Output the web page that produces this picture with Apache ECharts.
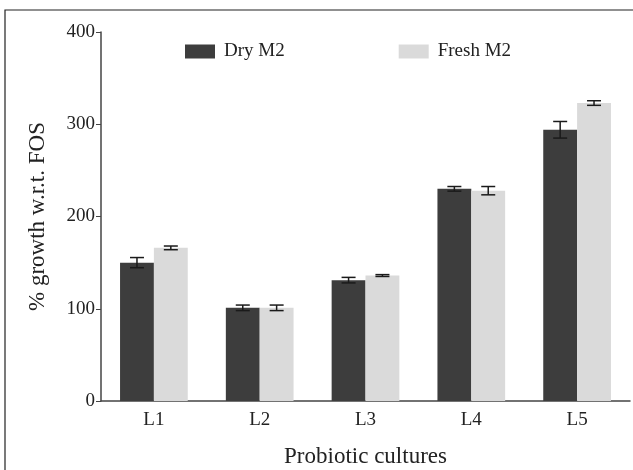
<!DOCTYPE html>
<html>
<head>
<meta charset="utf-8">
<script src="https://cdn.jsdelivr.net/npm/echarts@6/dist/echarts.min.js"></script>
<style>
  html, body { margin: 0; padding: 0; background: #fff; }
  #container { width: 633px; height: 470px; }
</style>
</head>
<body>
<div id="container"></div>
<script>
var categories = ['L1', 'L2', 'L3', 'L4', 'L5'];
var dryValues = [150, 101, 131, 230, 294];
var dryErrors = [5.5, 3, 3, 2.5, 9];
var freshValues = [166, 101, 136, 228, 323];
var freshErrors = [2, 3, 1, 4.5, 2.5];
var yTicks = [0, 100, 200, 300, 400];

var font = 'Liberation Serif';
var barCategoryGap = 0.36;

function errorSeries(values, errors, side) {
    return {
        type: 'custom',
        z: 5,
        silent: true,
        data: values.map(function (v, i) { return [i, v - errors[i], v + errors[i]]; }),
        renderItem: function (params, api) {
            var idx = api.value(0);
            var band = api.size([1, 0])[0];
            var barW = band * (1 - barCategoryGap) / 2;
            var lo = api.coord([idx, api.value(1)]);
            var hi = api.coord([idx, api.value(2)]);
            var x = lo[0] + side * barW / 2;
            var cap = 7;
            var style = { stroke: '#1a1a1a', lineWidth: 1.5 };
            return {
                type: 'group',
                children: [
                    { type: 'line', shape: { x1: x, y1: lo[1], x2: x, y2: hi[1] }, style: style },
                    { type: 'line', shape: { x1: x - cap, y1: lo[1], x2: x + cap, y2: lo[1] }, style: style },
                    { type: 'line', shape: { x1: x - cap, y1: hi[1], x2: x + cap, y2: hi[1] }, style: style }
                ]
            };
        }
    };
}

var chart = echarts.init(document.getElementById('container'));
chart.setOption({
    animation: false,
    textStyle: { fontFamily: font },
    graphic: [{
        type: 'rect',
        shape: { x: 5, y: 10, width: 640, height: 480 },
        style: { fill: 'none', stroke: '#222', lineWidth: 1.2 },
        silent: true
    }],
    legend: {
        top: 37,
        left: 180,
        itemGap: 114,
        itemWidth: 30,
        itemHeight: 14,
        icon: 'rect',
        textStyle: { fontFamily: font, fontSize: 19, color: '#222', padding: [0, 0, 0, 4] },
        data: ['Dry M2', 'Fresh M2']
    },
    grid: { left: 101, right: 3, top: 32, bottom: 69, outerBoundsMode: 'none' },
    xAxis: {
        type: 'category',
        data: categories,
        name: 'Probiotic cultures',
        nameLocation: 'middle',
        nameGap: 44,
        nameTextStyle: { fontFamily: font, fontSize: 23, color: '#222' },
        axisLine: { lineStyle: { color: '#444', width: 1.5 } },
        axisTick: { alignWithLabel: true, length: 5, lineStyle: { color: '#444' } },
        axisLabel: { fontFamily: font, fontSize: 19, color: '#222', margin: 10 }
    },
    yAxis: {
        type: 'value',
        min: 0,
        max: 400,
        interval: 100,
        name: '% growth w.r.t. FOS',
        nameLocation: 'middle',
        nameGap: 52,
        nameTextStyle: { fontFamily: font, fontSize: 23, color: '#222' },
        splitLine: { show: false },
        axisLine: { show: true, lineStyle: { color: '#444', width: 1.5 } },
        axisTick: { show: true, length: 5, lineStyle: { color: '#444' } },
        axisLabel: {
            fontFamily: font, fontSize: 19, color: '#222', margin: 6,
            formatter: function (v) { return yTicks.indexOf(v) >= 0 ? String(v) : ''; }
        }
    },
    series: [
        {
            name: 'Dry M2',
            type: 'bar',
            data: dryValues,
            barGap: '0%',
            barCategoryGap: (barCategoryGap * 100) + '%',
            itemStyle: { color: '#3d3d3d' }
        },
        {
            name: 'Fresh M2',
            type: 'bar',
            data: freshValues,
            itemStyle: { color: '#dadada' }
        },
        errorSeries(dryValues, dryErrors, -1),
        errorSeries(freshValues, freshErrors, 1)
    ]
});
</script>
</body>
</html>
